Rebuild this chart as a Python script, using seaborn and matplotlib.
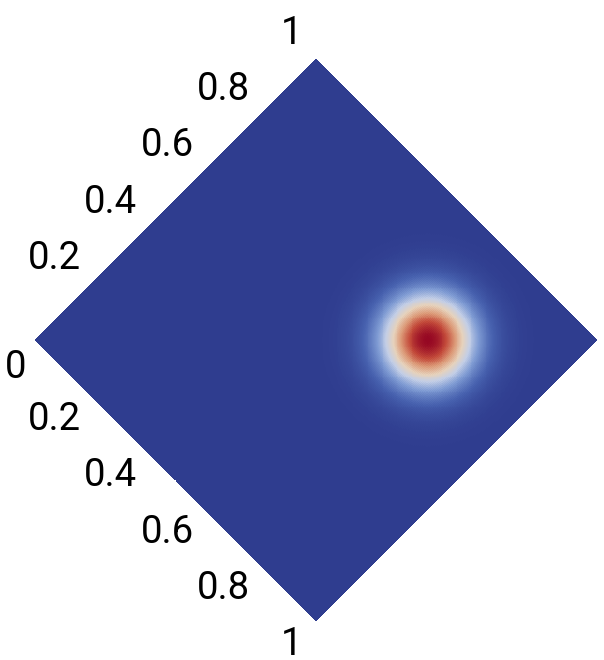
import numpy as np
import matplotlib
matplotlib.use("Agg")
import matplotlib.pyplot as plt
import seaborn as sns
from matplotlib.colors import LinearSegmentedColormap
from matplotlib.transforms import Affine2D

# ---- data ----
center_u = 0.7
center_v = 0.7
sigma = 0.08
grid_n = 300
tick_values = [0, 0.2, 0.4, 0.6, 0.8, 1]
tick_labels = ["0", "0.2", "0.4", "0.6", "0.8", "1"]

cmap_positions = [0.0, 0.12, 0.28, 0.42, 0.55, 0.7, 0.85, 1.0]
cmap_colors = ["#2f3d8f", "#4660ae", "#7f9bd3", "#c3cee6", "#e6d2bc",
               "#dc9a78", "#c34a3a", "#960823"]

# ---- field ----
coords = (np.arange(grid_n) + 0.5) / grid_n
U, V = np.meshgrid(coords, coords)  # columns -> u, rows -> v
Z = np.exp(-((U - center_u) ** 2 + (V - center_v) ** 2) / (2 * sigma ** 2))

cmap = LinearSegmentedColormap.from_list(
    "cw", list(zip(cmap_positions, cmap_colors)))

sns.set_style("white")
fig = plt.figure(figsize=(6.04, 6.60), dpi=100)
ax = fig.add_axes([0, 0, 1, 1])
sns.heatmap(Z, ax=ax, cmap=cmap, cbar=False, xticklabels=False,
            yticklabels=False, vmin=0, vmax=1, rasterized=True)

# map grid (col x, row y) -> (X, Y) = (u+v, u-v)
mesh = ax.collections[0]
n = float(grid_n)
A = Affine2D(np.array([[1 / n, 1 / n, 0], [1 / n, -1 / n, 0], [0, 0, 1]]))
mesh.set_transform(A + ax.transData)

ax.set_xlim(-35 / 281, (604 - 35) / 281)
ax.set_ylim((340 - 660) / 281, 340 / 281)
ax.set_axis_off()

font = dict(family=["Roboto", "DejaVu Sans"], fontsize=27.5, color="black",
            fontweight="normal")

for t, lab in zip(tick_values, tick_labels):
    if t == 0:
        ax.annotate(lab, xy=(0, 0), xytext=(-9, -38), textcoords="offset pixels",
                    ha="right", va="baseline", **font)
        continue
    # top-left edge: (X, Y) = (t, t)
    ax.annotate(lab, xy=(t, t), xytext=(-10 if t < 1 else -14, 15),
                textcoords="offset pixels", ha="right", va="baseline", **font)
    # bottom-left edge: (X, Y) = (t, -t)
    ax.annotate(lab, xy=(t, -t), xytext=(-10 if t < 1 else -14, -34),
                textcoords="offset pixels", ha="right", va="baseline", **font)

fig.savefig("out.png", dpi=100)
